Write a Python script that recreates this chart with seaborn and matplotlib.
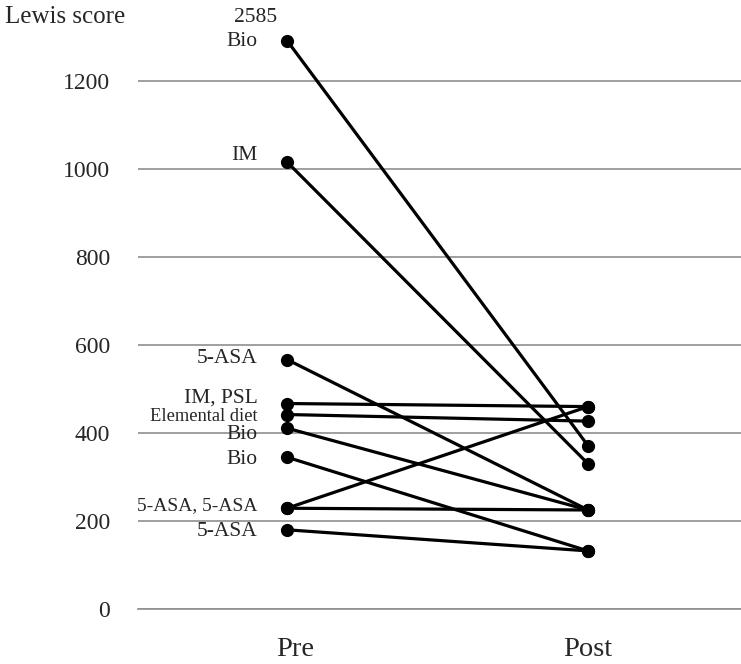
import matplotlib
matplotlib.use("Agg")
import matplotlib.pyplot as plt
import matplotlib.transforms as mtransforms
import seaborn as sns
import pandas as pd

# ---- data ----
timepoints = ["Pre", "Post"]
pre_scores = [1292, 1016, 567, 467, 442, 411, 345, 229, 229, 180]
post_scores = [371, 330, 225, 460, 427, 225, 132, 460, 225, 132]
treatments = ["Bio", "IM", "5-ASA", "IM, PSL", "Elemental diet", "Bio", "Bio",
              "5-ASA, 5-ASA", "", "5-ASA"]
top_note = "2585"
yticks = [0, 200, 400, 600, 800, 1000, 1200]

rows = []
for i, (a, b) in enumerate(zip(pre_scores, post_scores)):
    rows.append({"patient": i, "time": timepoints[0], "score": a})
    rows.append({"patient": i, "time": timepoints[1], "score": b})
df = pd.DataFrame(rows)

sns.set_style("white")
plt.rcParams["font.family"] = ["Liberation Serif", "DejaVu Serif"]

fig = plt.figure(figsize=(7.41, 6.64), dpi=100)
ax = fig.add_axes([138 / 741, 55 / 664, (741 - 138) / 741, 609 / 664])

sns.lineplot(data=df, x="time", y="score", units="patient", estimator=None,
             color="black", linewidth=2.3, marker="o", markersize=9.5,
             markeredgewidth=0, ax=ax, sort=False, zorder=3)

ax.set_xlim(-0.495, 1.508)
ax.set_ylim(0, 609 / 0.44)
ax.set_yticks(yticks)
ax.set_yticklabels([str(t) for t in yticks])
ax.set_xlabel("")
ax.set_ylabel("")
ax.yaxis.grid(True, color="#8f8f8f", linewidth=1.2)
ax.xaxis.grid(False)
for s in ["left", "right", "top"]:
    ax.spines[s].set_visible(False)
ax.spines["bottom"].set_color("#8f8f8f")
ax.spines["bottom"].set_linewidth(1.2)
ax.tick_params(axis="y", length=0, pad=20, labelsize=17)
ax.tick_params(axis="x", length=0, pad=20.5, labelsize=20.5)

# the "Pre" label sits slightly right of its points in the reference
pre_lab = ax.get_xticklabels()[0]
pre_lab.set_transform(pre_lab.get_transform() +
                      mtransforms.ScaledTranslation(8 / 100, 0, fig.dpi_scale_trans))

# baseline offsets (points) of each treatment label relative to its point
label_dy = [-4.3, 1.2, -2.2, 0.4, -4.8, -7.6, -4.8, -1.4, 0, -4.8]
for v, lab, dy in zip(pre_scores, treatments, label_dy):
    if not lab:
        continue
    if lab == "Elemental diet":
        fs = 13.3
    elif lab == "5-ASA, 5-ASA":
        fs = 14
    else:
        fs = 15.5
    ax.annotate(lab, (0, v), xytext=(-21, dy), textcoords="offset points",
                ha="right", va="baseline", fontsize=fs)

ax.annotate(top_note, (0, pre_scores[0]), xytext=(-23, 13),
            textcoords="offset points", ha="center", va="baseline", fontsize=15.5)

fig.text(5 / 741, 1 - 23 / 664, "Lewis score", ha="left", va="baseline", fontsize=18)

fig.savefig("out.png", dpi=100)
